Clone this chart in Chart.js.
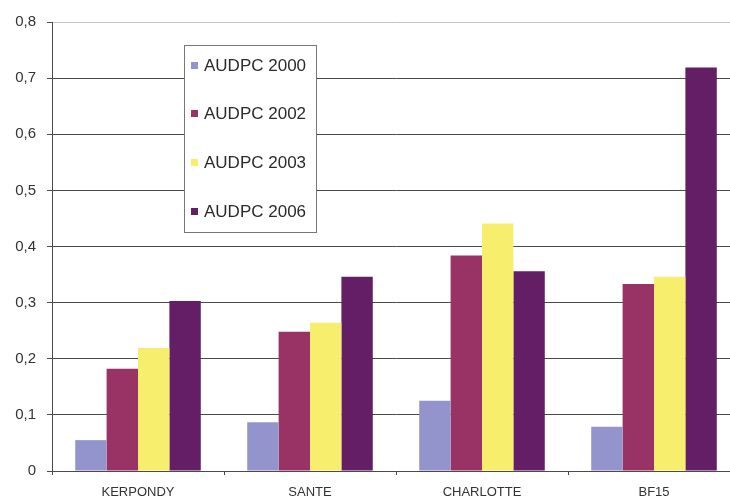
<!DOCTYPE html>
<html>
<head>
<meta charset="utf-8">
<title>AUDPC</title>
<script src="https://cdn.jsdelivr.net/npm/chart.js@4/dist/chart.umd.min.js"></script>
<style>
html, body { margin: 0; padding: 0; background: #fff; overflow: hidden; }
#wrap { width: 730px; height: 501px; overflow: hidden; }
</style>
</head>
<body>
<div id="wrap"><canvas id="audpcChart" width="740" height="501"></canvas></div>
<script>
// AUDPC per variety and year
var varieties = ['KERPONDY', 'SANTE', 'CHARLOTTE', 'BF15'];
var audpc2000 = [0.055, 0.087, 0.125, 0.079];
var audpc2002 = [0.182, 0.248, 0.384, 0.333];
var audpc2003 = [0.219, 0.264, 0.441, 0.346];
var audpc2006 = [0.303, 0.346, 0.356, 0.719];
var seriesLabels = ['AUDPC 2000', 'AUDPC 2002', 'AUDPC 2003', 'AUDPC 2006'];
var yTickLabels = ['0', '0,1', '0,2', '0,3', '0,4', '0,5', '0,6', '0,7', '0,8'];

var colors = ['#9494cc', '#993366', '#f6ee6c', '#631e66'];
var gridDark = '#4a4a4a';
var fontFamily = '"Liberation Sans", Arial, sans-serif';

// boxed legend sitting inside the plot area
var boxLegend = {
    id: 'boxLegend',
    afterDraw: function(chart) {
        var ctx = chart.ctx;
        var x = 184.5, y = 45.5, w = 132, h = 187;
        ctx.save();
        ctx.fillStyle = '#fff';
        ctx.fillRect(x, y, w, h);
        ctx.strokeStyle = '#777';
        ctx.lineWidth = 1;
        ctx.strokeRect(x, y, w, h);
        ctx.font = '17px ' + fontFamily;
        ctx.textBaseline = 'middle';
        chart.data.datasets.forEach(function(ds, i) {
            var cy = 65 + i * 48.7;
            ctx.fillStyle = ds.backgroundColor;
            ctx.fillRect(191, Math.round(cy - 3.5), 7, 7);
            ctx.fillStyle = '#2a2a2a';
            ctx.fillText(ds.label, 204, cy + 1);
        });
        ctx.restore();
    }
};

var seriesData = [audpc2000, audpc2002, audpc2003, audpc2006];
var datasets = seriesData.map(function(vals, i) {
    return {
        label: seriesLabels[i],
        data: vals,
        backgroundColor: colors[i],
        borderWidth: 0,
        categoryPercentage: 0.73,
        barPercentage: 1.0
    };
});

new Chart(document.getElementById('audpcChart'), {
    type: 'bar',
    data: { labels: varieties, datasets: datasets },
    options: {
        responsive: false,
        animation: false,
        devicePixelRatio: 1,
        layout: { padding: { top: 22, right: 0, bottom: 0, left: 0 } },
        plugins: {
            legend: { display: false },
            tooltip: { enabled: false }
        },
        scales: {
            x: {
                afterFit: function(s) { s.height = 30; },
                grid: { drawOnChartArea: false, offset: true, tickLength: 4, color: gridDark },
                border: { display: true, color: gridDark, width: 1 },
                ticks: { color: '#333', font: { family: fontFamily, size: 13 }, padding: 10 }
            },
            y: {
                min: 0,
                max: 0.8,
                afterFit: function(s) { s.width = 52; },
                grid: {
                    color: function(c) { return c.tick && c.tick.value >= 0.8 ? '#c4c4c4' : gridDark; },
                    tickColor: gridDark,
                    tickLength: 5,
                    lineWidth: 1
                },
                border: { display: true, color: gridDark, width: 1 },
                ticks: {
                    stepSize: 0.1,
                    color: '#333',
                    font: { family: fontFamily, size: 15 },
                    padding: 11,
                    callback: function(v, i) { return yTickLabels[i]; }
                }
            }
        }
    },
    plugins: [boxLegend]
});
</script>
</body>
</html>
